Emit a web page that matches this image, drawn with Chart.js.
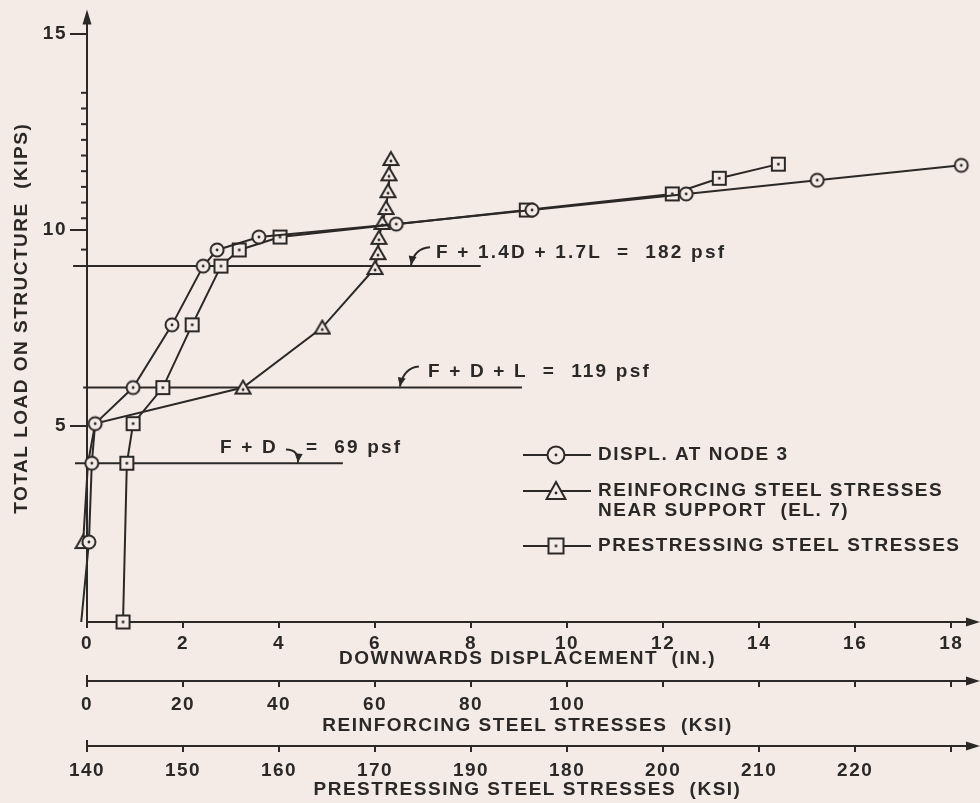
<!DOCTYPE html>
<html>
<head>
<meta charset="utf-8">
<script src="https://cdn.jsdelivr.net/npm/chart.js@4.4.1/dist/chart.umd.min.js"></script>
<style>
  html, body { margin: 0; padding: 0; background: #f4ebe7; }
  #wrap { width: 980px; height: 803px; }
</style>
</head>
<body>
<div id="wrap"><canvas id="loadChart" width="980" height="803"></canvas></div>
<script>
// displacement at node 3 (in.) vs total load (kips)
const displLoads  = [0, 2.04, 4.05, 5.06, 5.98, 7.58, 9.08, 9.49, 9.82, 10.15, 10.51, 10.92, 11.27, 11.65];
const displValues = [-0.12, 0.04, 0.10, 0.17, 0.96, 1.77, 2.42, 2.71, 3.58, 6.44, 9.27, 12.48, 15.21, 18.21];

// reinforcing steel stresses near support, el. 7 (ksi)
const reinfLoads  = [0, 2.04, 4.05, 5.06, 5.98, 7.51, 9.03, 9.41, 9.8, 10.18, 10.56, 10.99, 11.42, 11.81];
const reinfValues = [-2.5, -0.8, 0.2, 1.7, 32.5, 49.0, 60.0, 60.6, 60.8, 61.5, 62.3, 62.7, 62.9, 63.3];
const reinfHidden = [0, 2, 3];   // points covered by the displacement markers

// prestressing steel stresses (ksi)
const prestLoads  = [0, 4.05, 5.06, 5.98, 7.58, 9.08, 9.49, 9.82, 10.51, 10.92, 11.32, 11.68];
const prestValues = [143.75, 144.15, 144.8, 147.9, 150.95, 153.95, 155.85, 160.1, 185.75, 200.95, 205.85, 212.0];

// design load levels (kips) and extent of the reference lines (in.)
const designLoads = [4.05, 5.98, 9.08];
const designFrom  = [-0.25, -0.08, -0.29];
const designTo    = [5.33, 9.06, 8.2];
const designText  = ['F + D', 'F + D + L  =  119 psf', 'F + 1.4D + 1.7L  =  182 psf'];

// axis ticks
const yMajorTicks = [5, 10, 15];
const yMinorTicks = [9.5, 10.3, 10.7, 11.1, 11.5, 11.9, 12.3, 12.7, 13.1, 13.5];
const prestTickLabels = ['140', '150', '160', '170', '190', '180', '200', '210', '220', ''];

const X_MAX = 18.35;
const INK = '#2b2828';
const PAPER = '#f4ebe7';
const FAMILY = '"Liberation Sans", Arial, Helvetica, sans-serif';
const font = { family: FAMILY, size: 19, weight: 'bold' };

function makeMarker(shape, s) {
  const c = document.createElement('canvas');
  c.width = s; c.height = s;
  const g = c.getContext('2d');
  const m = s / 2;
  g.strokeStyle = INK; g.fillStyle = PAPER; g.lineWidth = 2;
  g.beginPath();
  if (shape === 'circle') g.arc(m, m, m - 2.5, 0, Math.PI * 2);
  else if (shape === 'square') g.rect(3, 3, s - 6, s - 6);
  else { g.moveTo(m, 2); g.lineTo(s - 1.5, s - 3); g.lineTo(1.5, s - 3); g.closePath(); }
  g.fill(); g.stroke();
  g.fillStyle = INK;
  g.beginPath();
  g.arc(m, shape === 'triangle' ? m + 2 : m, 1.4, 0, Math.PI * 2);
  g.fill();
  return c;
}
const marks = { circle: makeMarker('circle', 18), square: makeMarker('square', 19), triangle: makeMarker('triangle', 18) };
const bigMarks = { circle: makeMarker('circle', 22), square: makeMarker('square', 21), triangle: makeMarker('triangle', 22) };

const pts = (xs, ys) => xs.map((x, i) => ({ x: x, y: ys[i] }));

const series = {
  borderColor: INK, borderWidth: 2, backgroundColor: PAPER, showLine: true, tension: 0, clip: false
};

const datasets = [
  Object.assign({}, series, {
    label: 'DISPL. AT NODE 3', data: pts(displValues, displLoads), xAxisID: 'x',
    pointStyle: marks.circle, pointRadius: c => c.dataIndex === 0 ? 0 : 7
  }),
  Object.assign({}, series, {
    label: 'PRESTRESSING STEEL STRESSES', data: pts(prestValues, prestLoads), xAxisID: 'xP',
    pointStyle: marks.square, pointRadius: 7
  }),
  Object.assign({}, series, {
    label: 'REINFORCING STEEL STRESSES|NEAR SUPPORT  (EL. 7)', data: pts(reinfValues, reinfLoads), xAxisID: 'xR',
    pointStyle: marks.triangle, pointRadius: c => reinfHidden.includes(c.dataIndex) ? 0 : 7
  })
];
designLoads.forEach((L, i) => {
  datasets.push(Object.assign({}, series, {
    label: 'design' + i, data: [{ x: designFrom[i], y: L }, { x: designTo[i], y: L }],
    xAxisID: 'x', pointRadius: 0
  }));
});

const legendRows = [
  { mark: 'circle', set: 0, y: 455 },
  { mark: 'triangle', set: 2, y: 491 },
  { mark: 'square', set: 1, y: 546 }
];

function arrowHead(ctx, x0, y0, x1, y1) {
  const a = Math.atan2(y1 - y0, x1 - x0);
  ctx.beginPath();
  ctx.moveTo(x1, y1);
  ctx.lineTo(x1 - 9 * Math.cos(a) + 4 * Math.sin(a), y1 - 9 * Math.sin(a) - 4 * Math.cos(a));
  ctx.lineTo(x1 - 9 * Math.cos(a) - 4 * Math.sin(a), y1 - 9 * Math.sin(a) + 4 * Math.cos(a));
  ctx.closePath();
  ctx.fill();
}

const spacing = {
  id: 'spacing',
  beforeUpdate(chart) { chart.ctx.letterSpacing = '1.5px'; },
  beforeDraw(chart) {
    const ctx = chart.ctx;
    ctx.letterSpacing = '1.5px';
    ctx.save();
    ctx.fillStyle = PAPER;
    ctx.fillRect(0, 0, chart.width, chart.height);
    ctx.restore();
  }
};

const decor = {
  id: 'decor',
  afterDraw(chart) {
    const ctx = chart.ctx;
    const a = chart.chartArea;
    const sx = chart.scales.x, sy = chart.scales.y;
    ctx.save();
    ctx.strokeStyle = INK; ctx.fillStyle = INK; ctx.lineWidth = 2;

    // axis arrows
    ['x', 'xR', 'xP'].forEach(id => {
      const s = chart.scales[id];
      const y = s.top;
      ctx.beginPath(); ctx.moveTo(a.right + 12, y);
      ctx.lineTo(a.right - 2, y - 4.5); ctx.lineTo(a.right - 2, y + 4.5); ctx.closePath(); ctx.fill();
      if (id !== 'x') {
        ctx.beginPath(); ctx.moveTo(s.left, y - 6); ctx.lineTo(s.left, y + 6); ctx.stroke();
      }
    });
    ctx.beginPath(); ctx.moveTo(a.left, a.top - 5);
    ctx.lineTo(a.left - 4.5, a.top + 10); ctx.lineTo(a.left + 4.5, a.top + 10); ctx.closePath(); ctx.fill();

    // minor load ticks
    yMinorTicks.forEach(v => {
      const py = sy.getPixelForValue(v);
      ctx.beginPath(); ctx.moveTo(a.left - 6, py); ctx.lineTo(a.left, py); ctx.stroke();
    });

    // design load labels
    ctx.font = 'bold 19px ' + FAMILY;
    ctx.textBaseline = 'middle';
    ctx.textAlign = 'left';
    ctx.letterSpacing = '2.2px';
    const t0 = { x: sx.getPixelForValue(2.77), y: sy.getPixelForValue(4.45) };
    ctx.fillText(designText[0], t0.x, t0.y);
    ctx.fillText('=  69 psf', t0.x + 86, t0.y);
    const t1 = { x: sx.getPixelForValue(7.1), y: sy.getPixelForValue(6.39) };
    ctx.fillText(designText[1], t1.x, t1.y);
    const t2 = { x: sx.getPixelForValue(7.27), y: sy.getPixelForValue(9.41) };
    ctx.fillText(designText[2], t2.x, t2.y);
    ctx.letterSpacing = '1.5px';

    const curl = (t, sxo, syo, cx, cy, ex, ey) => {
      ctx.beginPath();
      ctx.moveTo(t.x + sxo, t.y + syo);
      ctx.quadraticCurveTo(t.x + cx, t.y + cy, t.x + ex, t.y + ey);
      ctx.stroke();
      arrowHead(ctx, t.x + cx, t.y + cy, t.x + ex, t.y + ey);
    };
    curl(t0, 66, 2, 79, 2, 78, 15);
    curl(t1, -9, -5, -24, -4, -28, 15);
    curl(t2, -6, -6, -22, -5, -25, 12);

    // legend
    legendRows.forEach(r => {
      ctx.beginPath(); ctx.moveTo(523, r.y); ctx.lineTo(591, r.y); ctx.stroke();
      const m = bigMarks[r.mark];
      ctx.drawImage(m, 556 - m.width / 2, r.y - m.height / 2);
      const lines = chart.data.datasets[r.set].label.split('|');
      lines.forEach((ln, k) => ctx.fillText(ln, 598, r.y + k * 20));
    });
    ctx.restore();
  }
};

const tickFont = font;
const bottomAxis = (min, max, step, height, title, tickPad, titlePad, cb) => ({
  type: 'linear', position: 'bottom', min: min, max: max,
  afterFit: s => { s.height = height; },
  border: { display: true, color: INK, width: 2 },
  grid: { drawOnChartArea: false, drawTicks: true, tickLength: 6, color: INK, lineWidth: 2 },
  ticks: { stepSize: step, includeBounds: false, autoSkip: false, maxRotation: 0, color: INK, font: tickFont, padding: tickPad, callback: cb },
  title: { display: true, text: title, color: INK, font: font, padding: { top: 0, bottom: titlePad } }
});

new Chart(document.getElementById('loadChart'), {
  type: 'scatter',
  data: { datasets: datasets },
  options: {
    responsive: false,
    animation: false,
    events: [],
    layout: { padding: { top: 13, right: 12, bottom: 0, left: 0 } },
    plugins: { legend: { display: false }, tooltip: { enabled: false } },
    scales: {
      x: bottomAxis(0, X_MAX, 2, 59, 'DOWNWARDS DISPLACEMENT  (IN.)', 4, 11, v => v),
      xR: bottomAxis(0, X_MAX * 10, 20, 65, 'REINFORCING STEEL STRESSES  (KSI)', 6, 9, v => v <= 100 ? v : ''),
      xP: bottomAxis(140, 140 + X_MAX * 5, 10, 57, 'PRESTRESSING STEEL STRESSES  (KSI)', 7, 2, (v, i) => prestTickLabels[i] || ''),
      y: {
        type: 'linear', position: 'left', min: 0, max: 15.5,
        afterFit: s => { s.width = 87; },
        afterBuildTicks: s => { s.ticks = yMajorTicks.map(v => ({ value: v })); },
        border: { display: true, color: INK, width: 2 },
        grid: { drawOnChartArea: false, drawTicks: true, tickLength: 17, color: INK, lineWidth: 2 },
        ticks: { color: INK, font: tickFont, padding: 3 },
        title: { display: true, text: 'TOTAL LOAD ON STRUCTURE  (KIPS)', color: INK, font: font, padding: { top: 10, bottom: 0 } }
      }
    }
  },
  plugins: [spacing, decor]
});
</script>
</body>
</html>
